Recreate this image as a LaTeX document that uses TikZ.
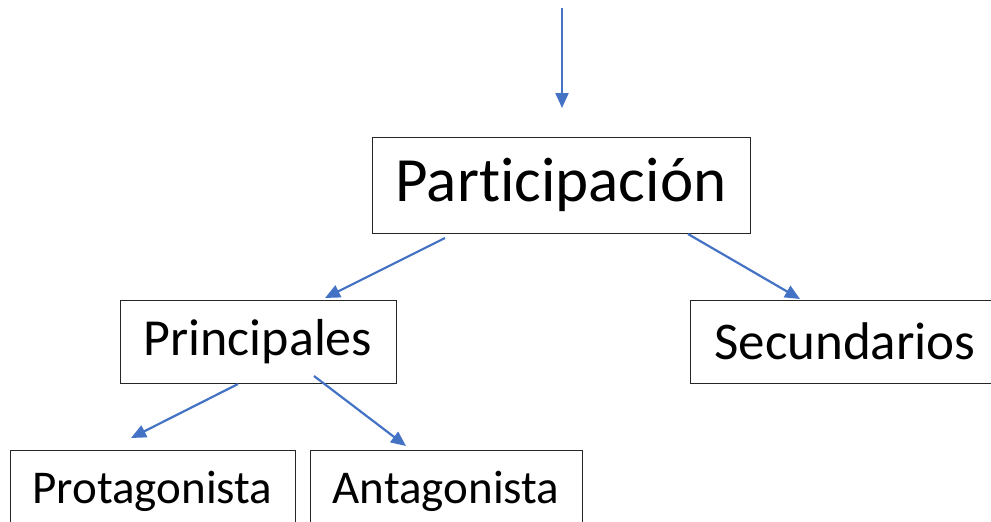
\documentclass[tikz,border=0pt]{standalone}
\usepackage{fontspec}
\setmainfont{Carlito}[Ligatures=NoCommon]
\usetikzlibrary{arrows.meta}
\definecolor{flecha}{RGB}{68,114,196}
\tikzset{
  caja/.style={draw=black!85,line width=1pt,inner sep=0pt,anchor=center},
  flechaazul/.style={draw=flecha,line width=2.2pt,-{Triangle[length=15pt,width=13pt]}}
}
\begin{document}
\begin{tikzpicture}[x=1pt,y=-1pt]
        \useasboundingbox (0,0) rectangle (991,522);

        % cajas
        \node[caja,minimum width=378pt,minimum height=96pt,font=\fontsize{63}{70}\selectfont] (part) at (561,185) {\raisebox{-3pt}{Participación}};
        \node[caja,minimum width=276pt,minimum height=83pt,font=\fontsize{52}{60}\selectfont] (princ) at (258,341.5) {Principales};
        \node[caja,minimum width=310pt,minimum height=83pt,font=\fontsize{53}{60}\selectfont] (sec) at (845,341.5) {Secundarios};
        \node[caja,minimum width=285pt,minimum height=83pt,font=\fontsize{47}{55}\selectfont] (prot) at (152.5,491.5) {Protagonista};
        \node[caja,minimum width=272pt,minimum height=83pt,font=\fontsize{47}{55}\selectfont] (ant) at (446,491.5) {Antagonista};

        % extremos de las flechas
        \coordinate (ini) at (562,8);
        \coordinate (fin) at (562,108);
        \coordinate (p1) at (445,238);
        \coordinate (p2) at (325,298);
        \coordinate (p3) at (688,234);
        \coordinate (p4) at (800,299);
        \coordinate (q1) at (238,384);
        \coordinate (q2) at (131,438);
        \coordinate (q3) at (314,376);
        \coordinate (q4) at (406,446);

        \draw[flechaazul] (ini) -- (fin);
        \draw[flechaazul] (p1) -- (p2);
        \draw[flechaazul] (p3) -- (p4);
        \draw[flechaazul] (q1) -- (q2);
        \draw[flechaazul] (q3) -- (q4);
\end{tikzpicture}
\end{document}
